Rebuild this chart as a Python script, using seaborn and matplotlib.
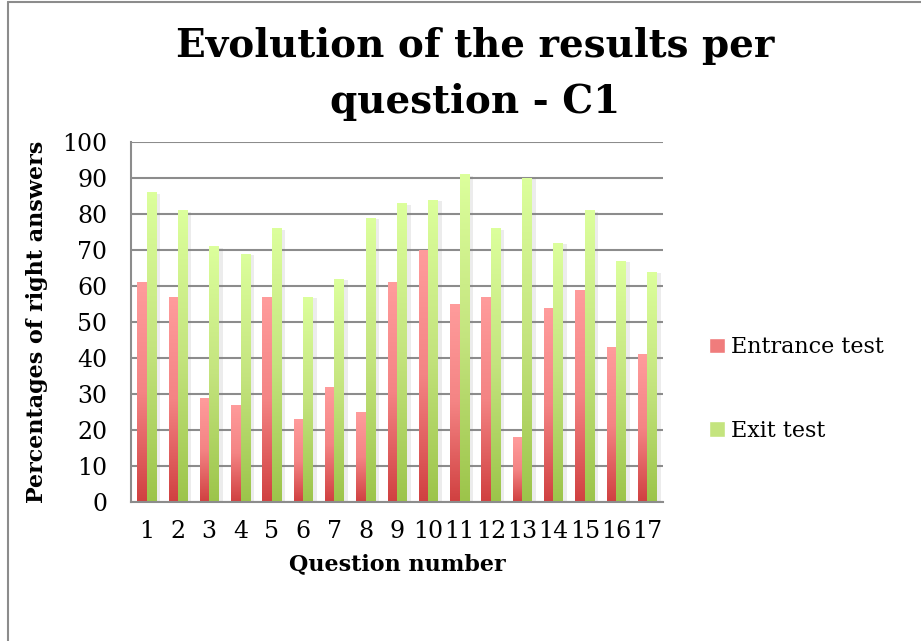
import numpy as np
import pandas as pd
import seaborn as sns
import matplotlib.pyplot as plt
import matplotlib.patheffects as pe
from matplotlib.colors import LinearSegmentedColormap
from matplotlib.patches import Patch
from matplotlib.lines import Line2D

# values
questions = [str(i) for i in range(1, 18)]
entrance = [61, 57, 29, 27, 57, 23, 32, 25, 61, 70, 55, 57, 18, 54, 59, 43, 41]
exit_test = [86, 81, 71, 69, 76, 57, 62, 79, 83, 84, 91, 76, 90, 72, 81, 67, 64]
series = ["Entrance test", "Exit test"]

df = pd.DataFrame({
    "Question": questions * 2,
    "Test": [series[0]] * len(questions) + [series[1]] * len(questions),
    "Value": entrance + exit_test,
})

# dark at the bottom, light at the top
red_cmap = LinearSegmentedColormap.from_list("red", ["#d04040", "#f48484", "#ff9c9c"])
green_cmap = LinearSegmentedColormap.from_list("green", ["#9cc44a", "#c4e47e", "#dcff9c"])

sns.set_theme(style="white")
plt.rcParams["font.family"] = ["DejaVu Serif"]
plt.rcParams["text.color"] = "black"
plt.rcParams["axes.labelcolor"] = "black"

fig = plt.figure(figsize=(9.21, 6.41), dpi=100)
ax = fig.add_axes([131 / 921, 1 - 502 / 641, 532 / 921, 360 / 641])

sns.barplot(data=df, x="Question", y="Value", hue="Test",
            palette=["#f07c7c", "#c4e47e"], width=0.6, saturation=1,
            legend=False, ax=ax)

xlim = ax.get_xlim()
grad = np.linspace(0, 1, 256).reshape(-1, 1)
for cont, cmap in zip(ax.containers, [red_cmap, green_cmap]):
    for bar in cont:
        x, w, h = bar.get_x(), bar.get_width(), bar.get_height()
        bar.set_path_effects([pe.SimplePatchShadow(offset=(3, -1), shadow_rgbFace="gray", alpha=0.15),
                              pe.Normal()])
        bar.set_edgecolor("none")
        im = ax.imshow(grad, extent=[x, x + w, 0, h], origin="lower", aspect="auto",
                       cmap=cmap, zorder=bar.get_zorder() + 0.1)
        im.set_clip_path(bar)

ax.set_xlim(xlim)
ax.set_ylim(0, 100)
ax.set_yticks(range(0, 101, 10))
ax.set_axisbelow(True)
ax.grid(axis="y", color="#8c8c8c", linewidth=1.5)
ax.grid(axis="x", visible=False)
for side in ["top", "right"]:
    ax.spines[side].set_visible(False)
for side in ["left", "bottom"]:
    ax.spines[side].set_color("#8c8c8c")
    ax.spines[side].set_linewidth(1.5)

ax.tick_params(axis="both", length=0, labelsize=17, colors="black")
ax.tick_params(axis="x", pad=13)
ax.tick_params(axis="y", pad=17)
ax.set_xlabel("Question number", fontsize=16, fontweight="bold", labelpad=7)
ax.set_ylabel("Percentages of right answers", fontsize=16, fontweight="bold", labelpad=10)

title_lines = ["Evolution of the results per", "question - C1"]
for line, base in zip(title_lines, [57, 113]):
    fig.text(475 / 921, 1 - base / 641, line, ha="center", va="baseline",
             fontsize=28, fontweight="bold")

handles = [Patch(facecolor="#f07c7c", label=series[0]),
           Patch(facecolor="#c4e47e", label=series[1])]
fig.legend(handles=handles, loc="center left", bbox_to_anchor=(689 / 921, 1 - 389 / 641),
           frameon=False, fontsize=16, labelspacing=2.75, handlelength=0.7,
           handleheight=0.7, handletextpad=0.3)

# outer chart border (only top and left edges are visible)
fig.add_artist(Line2D([8 / 921, 8 / 921], [0, 1 - 2 / 641], transform=fig.transFigure,
                      color="#8c8c8c", linewidth=1.5))
fig.add_artist(Line2D([8 / 921, 1], [1 - 2 / 641, 1 - 2 / 641], transform=fig.transFigure,
                      color="#8c8c8c", linewidth=1.5))

fig.savefig("out.png", dpi=100)
